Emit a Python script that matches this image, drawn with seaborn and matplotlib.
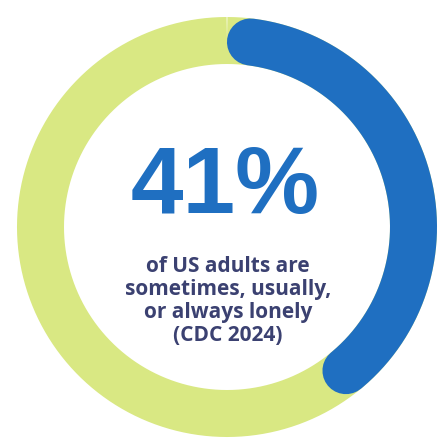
"""
Donut stat card: share of US adults who feel lonely.
"""
import matplotlib
matplotlib.use("Agg")
import matplotlib.pyplot as plt
import seaborn as sns
import numpy as np

sns.set_theme(style="white")

# data
categories = ["Lonely", "Not lonely"]
shares = [41, 59]
big_label = "41%"
caption_lines = ["of US adults are", "sometimes, usually,", "or always lonely", "(CDC 2024)"]

COLORS = {
    "blue": "#1f6fc1",
    "green": "#d9e883",
    "navy": "#3b4171",
}

W, H, DPI = 439, 446, 100
R_OUT, R_IN = 210, 163          # ring radii in pixels
R_MID = (R_OUT + R_IN) / 2
THICK = R_OUT - R_IN
LW = THICK * 72 / DPI           # ring thickness in points

fig = plt.figure(figsize=(W / DPI, H / DPI), dpi=DPI, facecolor="white")
cx, cy = 227, H - 227           # ring centre (pixels from bottom-left)
box = 218
ax = fig.add_axes([(cx - box) / W, (cy - box) / H, 2 * box / W, 2 * box / H],
                  projection="polar")
ax.set_theta_zero_location("N")
ax.set_theta_direction(-1)
ax.set_ylim(0, box)
ax.set_axis_off()

total = sum(shares)
lonely_frac = shares[0] / total
cap = np.degrees((THICK / 2) / R_MID)   # angle eaten by a round cap

# background (green) full ring
theta_full = np.radians(np.linspace(0, 360, 361))
sns.lineplot(x=theta_full, y=np.full_like(theta_full, R_MID), ax=ax,
             color=COLORS["green"], linewidth=LW, sort=False,
             solid_capstyle="butt")

# lonely share (blue) with rounded ends
end_deg = lonely_frac * 360
theta_arc = np.radians(np.linspace(cap, end_deg - cap, 200))
sns.lineplot(x=theta_arc, y=np.full_like(theta_arc, R_MID), ax=ax,
             color=COLORS["blue"], linewidth=LW, sort=False,
             solid_capstyle="round")
ax.set_ylim(0, box)

fig.text(225 / W, 1 - 188 / H, big_label, ha="center", va="center",
         fontsize=68, fontweight="bold", color=COLORS["blue"],
         family=["Liberation Sans", "DejaVu Sans"])
fig.text(228 / W, 1 - 301 / H, "\n".join(caption_lines), ha="center",
         va="center", fontsize=15, fontweight="bold", color=COLORS["navy"],
         linespacing=1.14, family=["Open Sans", "DejaVu Sans"])

fig.savefig("out.png", dpi=DPI, facecolor="white")
